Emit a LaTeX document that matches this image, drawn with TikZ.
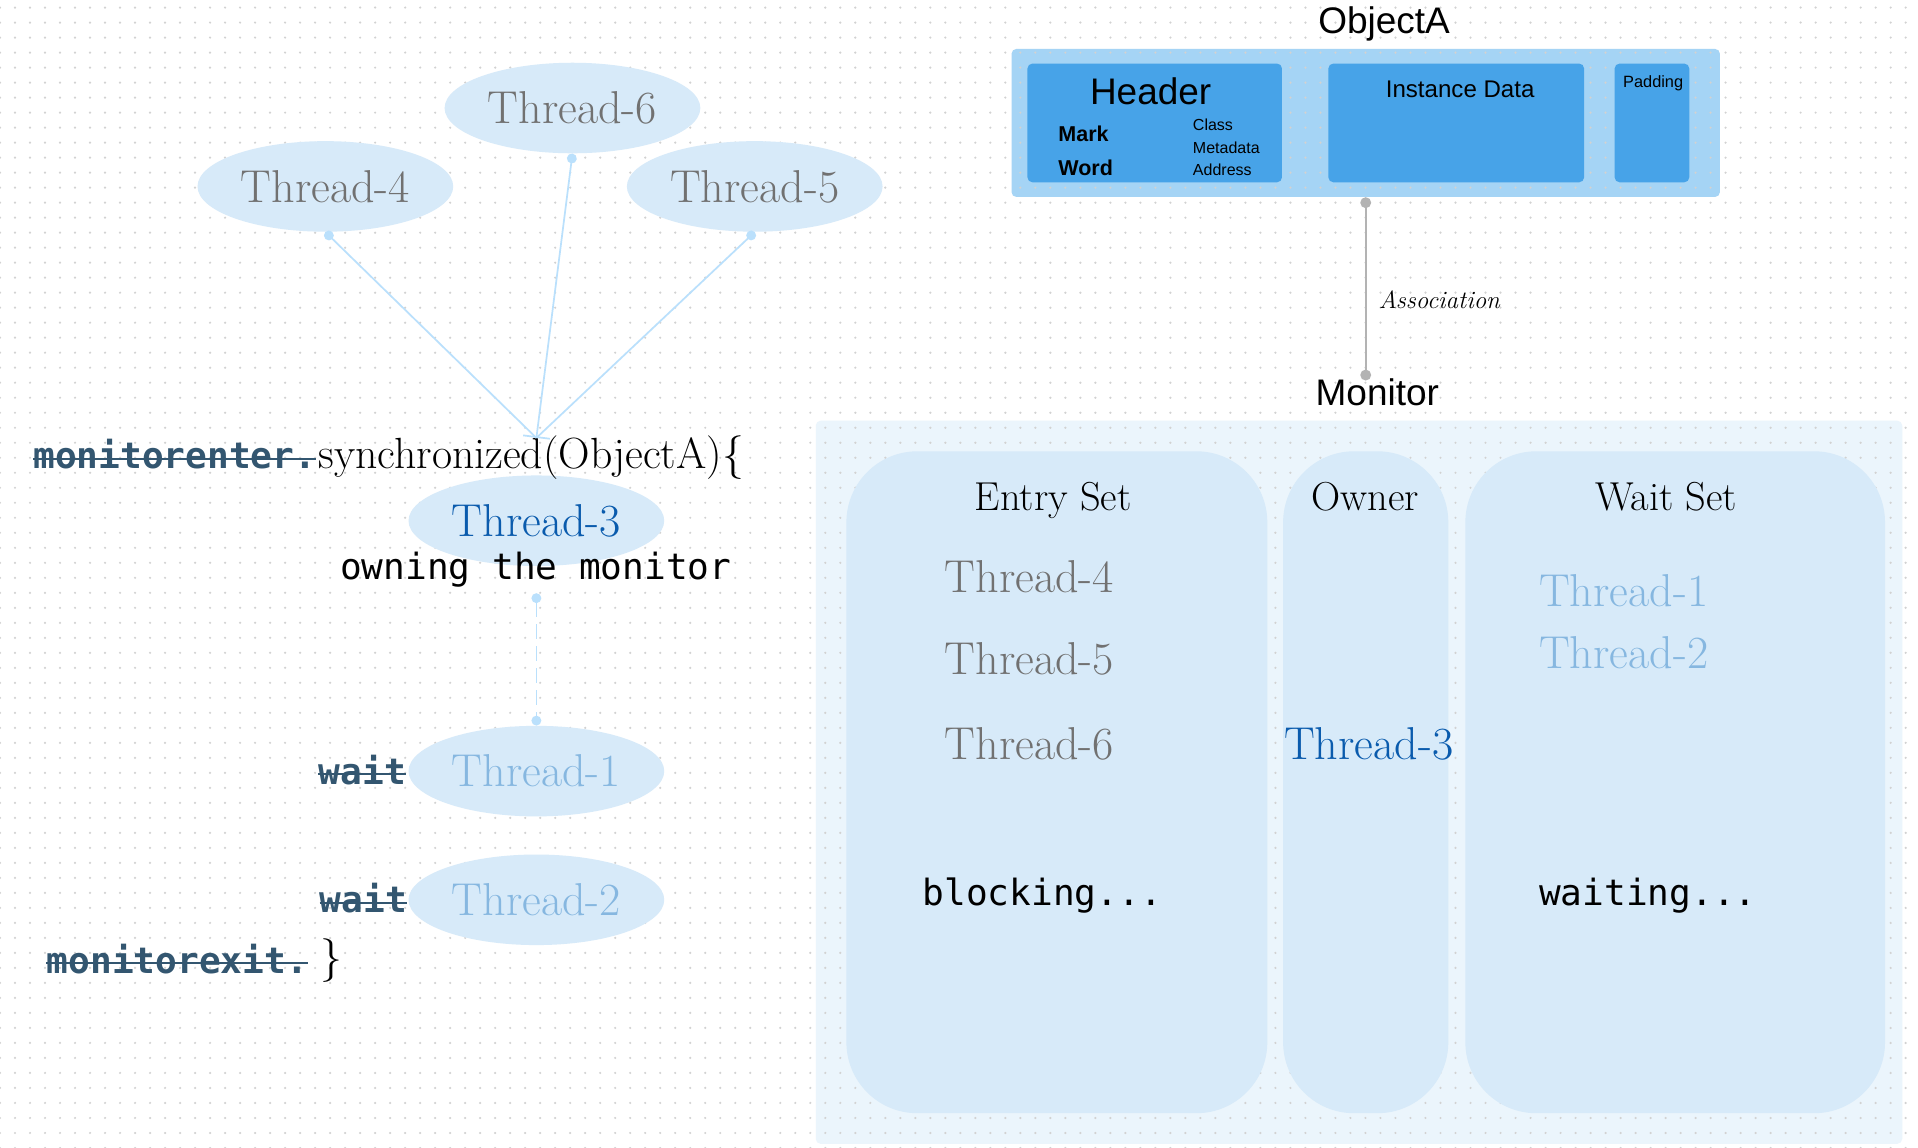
\documentclass[tikz,border=0pt]{standalone}
\usepackage{fontspec}
\setsansfont{Liberation Sans}
\setmonofont{DejaVu Sans Mono}
\usepackage{xcolor}
\usepackage{tikz}
\usetikzlibrary{arrows.meta,shapes.geometric,patterns.meta,positioning}

\definecolor{ellfill}{HTML}{D7EAF9}
\definecolor{monfill}{HTML}{EBF5FC}
\definecolor{objfill}{HTML}{A5D4F5}
\definecolor{boxfill}{HTML}{47A3E8}
\definecolor{linkblue}{HTML}{BAE0FC}
\definecolor{assocgray}{HTML}{B3B3B3}
\definecolor{txtgray}{HTML}{717171}
\definecolor{txtdark}{HTML}{0A5BAD}
\definecolor{txtlight}{HTML}{86B7E0}
\definecolor{slate}{HTML}{335670}
\definecolor{dotgray}{HTML}{D2D2D2}

\tikzset{
  thread/.style={ellipse, fill=ellfill, minimum width=5.225cm, minimum height=1.85cm, inner sep=0pt, font=\fontsize{26.8}{31}\selectfont},
  serif/.style={inner sep=0pt, font=\fontsize{23.5}{28}\selectfont},
  tname/.style={inner sep=0pt, anchor=base west, font=\fontsize{26.8}{31}\selectfont},
  code/.style={inner sep=0pt, text=slate, font=\ttfamily\bfseries\fontsize{21}{25}\selectfont},
  monotext/.style={inner sep=0pt, font=\ttfamily\fontsize{21}{25}\selectfont},
  sanstxt/.style={inner sep=0pt, font=\sffamily\fontsize{21.5}{26}\selectfont},
  strike/.style={draw=slate, line width=1.3pt},
  link/.style={draw=linkblue, line width=1pt},
  setcol/.style={fill=ellfill, rounded corners=1.45cm, minimum height=13.525cm, inner sep=0pt},
  objbox/.style={fill=boxfill, rounded corners=0.1cm, minimum height=2.425cm, inner sep=0pt}
}

\begin{document}
\begin{tikzpicture}[x=0.025cm, y=-0.025cm]
\useasboundingbox (0,0) rectangle (1568,938.5);
\fill[white] (0,0) rectangle (1568,938.5);

% frames
\node[fill=monfill, rounded corners=0.1cm, minimum width=22.2cm, minimum height=14.775cm, inner sep=0pt] (monitor) at (1111,639.5) {};
\node[fill=objfill, rounded corners=0.1cm, minimum width=14.475cm, minimum height=3.025cm, inner sep=0pt] (objA) at (1116.5,100.5) {};

% dotted grid
\fill[pattern={Dots[distance=0.3066cm, radius=0.025cm]}, pattern color=dotgray] (0,0) rectangle (1568,938.5);

% ObjectA
\node[sanstxt, anchor=base] (objAlbl) at (1131.5,27.5) {ObjectA};
\node[objbox, minimum width=5.2cm] (header) at (944,100.5) {};
\node[objbox, minimum width=5.225cm] (inst) at (1190.5,100.5) {};
\node[objbox, minimum width=1.525cm] (pad) at (1350.5,100.5) {};
\node[sanstxt] (headerlbl) at (940.7,75) {Header};
\node[sanstxt, anchor=west, font=\sffamily\bfseries\fontsize{12.5}{15}\selectfont] (mark) at (865,109) {Mark};
\node[sanstxt, anchor=west, font=\sffamily\bfseries\fontsize{12.5}{15}\selectfont] (word) at (865,137) {Word};
\node[sanstxt, anchor=west, font=\sffamily\fontsize{9.3}{11}\selectfont] (klass) at (975,102) {Class};
\node[sanstxt, anchor=west, font=\sffamily\fontsize{9.3}{11}\selectfont] (meta) at (975,120.5) {Metadata};
\node[sanstxt, anchor=west, font=\sffamily\fontsize{9.3}{11}\selectfont] (addr) at (975,138.4) {Address};
\node[sanstxt, font=\sffamily\fontsize{14}{17}\selectfont] (instlbl) at (1193.7,73.3) {Instance Data};
\node[sanstxt, font=\sffamily\fontsize{9.5}{11}\selectfont] (padlbl) at (1351.5,68.2) {Padding};

% association
\node[sanstxt, anchor=base] (monlbl) at (1126,331.5) {Monitor};
\coordinate (monin) at (1116.5,311);
\draw[draw=assocgray, line width=1.3pt, {Circle[length=0.22cm]}-{Circle[length=0.22cm]}] (objA.south) -- (monin);
\node[anchor=base west, inner sep=0pt, font=\itshape\fontsize{14.5}{17}\selectfont] (assoclbl) at (1127,252) {Association};

% monitor sets
\node[setcol, minimum width=8.6cm] (entry) at (864,639.5) {};
\node[setcol, minimum width=3.375cm] (owner) at (1116.5,639.5) {};
\node[setcol, minimum width=8.575cm] (wait) at (1369.5,639.5) {};
\node[serif, anchor=base] (entrylbl) at (861,417.5) {Entry Set};
\node[serif, anchor=base] (ownerlbl) at (1116,417.5) {Owner};
\node[serif, anchor=base] (waitlbl) at (1362,417.5) {Wait Set};
\foreach \n/\y in {4/484,5/551.6,6/620.5}
  \node[tname, text=txtgray] (e\n) at (772,\y) {Thread-\n};
\node[tname, text=txtdark] (o3) at (1049.5,620.5) {Thread-3};
\foreach \n/\y in {1/496,2/546.5}
  \node[tname, text=txtlight] (w\n) at (1258,\y) {Thread-\n};
\node[monotext, anchor=base west] (blocking) at (754,740) {blocking...};
\node[monotext, anchor=base west] (waiting) at (1258,740) {waiting...};

% threads
\node[thread, text=txtgray] (t6) at (468,88.3) {Thread-6};
\node[thread, text=txtgray] (t4) at (266,152.4) {Thread-4};
\node[thread, text=txtgray] (t5) at (617,152.4) {Thread-5};
\node[thread, text=txtdark] (t3) at (438.5,425.7) {Thread-3};
\node[thread, text=txtlight] (t1) at (438.5,630.4) {Thread-1};
\node[thread, text=txtlight] (t2) at (438.5,735.6) {Thread-2};

% code
\node[code, anchor=base west] (menter) at (27,383) {monitorenter.};
\node[serif, anchor=base west, font=\fontsize{25.4}{30}\selectfont] (sync) at (260,383) {synchronized(ObjectA)\{};
\node[monotext, anchor=base] (owning) at (438,474) {owning the monitor};
\node[code, anchor=base east] (wait1) at (332,641) {wait};
\node[code, anchor=base east] (wait2) at (333,746) {wait};
\node[code, anchor=base west] (mexit) at (38,795.5) {monitorexit.};
\node[serif, anchor=base west, font=\fontsize{25.4}{30}\selectfont] (close) at (262,794) {\}};
\foreach \w in {menter,wait1,wait2,mexit}
  \draw[strike] ([yshift=0.2cm]\w.base west) -- ([yshift=0.2cm]\w.base east);

% connectors
\coordinate (enter) at (438.5,358);
\coordinate (own) at (438.5,485);
\draw[link, {Circle[length=0.2cm]}-] (t4.south) -- (enter);
\draw[link, {Circle[length=0.2cm]}-{Bar[width=0.55cm]}] (t6.south) -- (enter);
\draw[link, {Circle[length=0.2cm]}-] (t5.south) -- (enter);
\draw[link, dash pattern=on 0.3cm off 0.15cm, {Circle[length=0.2cm]}-{Circle[length=0.2cm]}] (own) -- (t1.north);
\end{tikzpicture}
\end{document}
